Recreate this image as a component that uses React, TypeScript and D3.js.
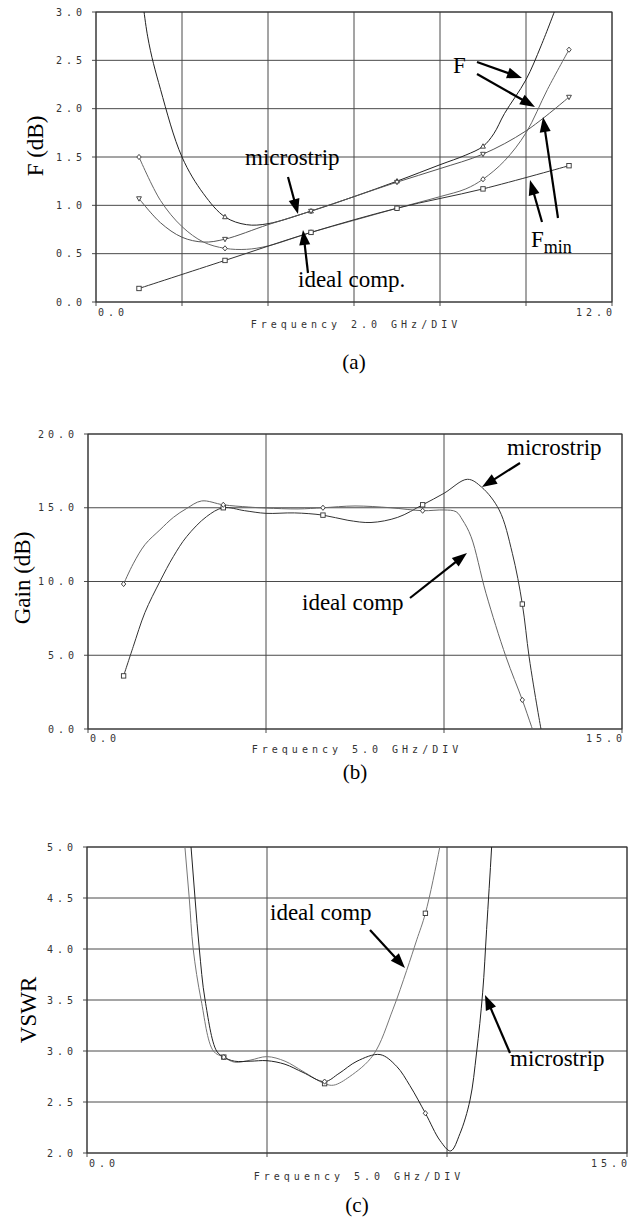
import React from 'react';
import * as d3 from 'd3';

const W = 630;
const H = 1220;

// ---------- Panel (a): noise figure vs frequency (GHz) ----------
const aYTickLabels = ['0.0', '0.5', '1.0', '1.5', '2.0', '2.5', '3.0'];
const aYTicks = [0, 0.5, 1, 1.5, 2, 2.5, 3];
const aXTicks = [0, 2, 4, 6, 8, 10, 12];

const aFmsX = [0.9, 1.2, 1.5, 2.0, 2.5, 3.0, 3.5, 4.0, 5.0, 6.0, 7.0, 8.0, 8.6, 9.0, 9.25, 9.5, 10.0, 10.35, 10.7];
const aFmsY = [3.9, 2.75, 2.2, 1.5, 1.12, 0.88, 0.8, 0.81, 0.94, 1.09, 1.25, 1.42, 1.52, 1.61, 1.74, 1.95, 2.3, 2.65, 3.05];
const aFminMsX = [1, 1.5, 2, 2.5, 3, 4, 5, 6, 7, 8, 9, 10, 11];
const aFminMsY = [1.07, 0.82, 0.67, 0.62, 0.65, 0.8, 0.94, 1.09, 1.24, 1.38, 1.53, 1.77, 2.12];
const aFidX = [1, 1.5, 2, 2.5, 3, 3.5, 4, 5, 6, 7, 8, 8.6, 9, 9.5, 10, 10.5, 11];
const aFidY = [1.5, 1.05, 0.78, 0.62, 0.555, 0.545, 0.58, 0.72, 0.845, 0.97, 1.09, 1.17, 1.27, 1.46, 1.75, 2.2, 2.61];
const aFminIdX = [1, 3, 5, 7, 9, 11];
const aFminIdY = [0.14, 0.43, 0.72, 0.97, 1.17, 1.41];
const aMarkX = [1, 3, 5, 7, 9, 11];

// ---------- Panel (b): gain ----------
const bYTickLabels = ['0.0', '5.0', '10.0', '15.0', '20.0'];
const bYTicks = [0, 5, 10, 15, 20];
const bXTicks = [0, 5, 10, 15];
const bMsX = [1.0, 1.27, 1.6, 2.02, 2.4, 2.77, 3.33, 3.8, 4.4, 5.0, 5.8, 6.6, 7.3, 7.95, 8.7, 9.4, 10.0, 10.66, 11.06, 11.55, 11.92, 12.2, 12.39, 12.63, 12.8];
const bMsY = [3.6, 5.58, 7.9, 10.0, 11.7, 13.04, 14.4, 15.0, 14.8, 14.62, 14.65, 14.5, 14.15, 14.0, 14.35, 15.2, 15.98, 16.93, 16.39, 14.85, 11.91, 8.47, 4.9, 1.29, -1.0];
const bIdX = [1.0, 1.27, 1.6, 2.02, 2.4, 2.77, 3.19, 3.8, 4.5, 5.0, 5.9, 6.6, 7.5, 8.5, 9.4, 10.0, 10.34, 10.52, 10.76, 11.18, 11.74, 12.2, 12.46, 12.7];
const bIdY = [9.83, 11.2, 12.5, 13.5, 14.35, 14.95, 15.46, 15.2, 15.05, 14.98, 14.92, 15.0, 15.12, 15.0, 14.8, 14.85, 14.73, 14.17, 13.04, 9.2, 4.9, 1.97, 0.16, -1.5];
const bMarkX = [1.0, 3.8, 6.6, 9.4, 12.2];

// ---------- Panel (c): VSWR ----------
const cYTickLabels = ['2.0', '2.5', '3.0', '3.5', '4.0', '4.5', '5.0'];
const cYTicks = [2, 2.5, 3, 3.5, 4, 4.5, 5];
const cXTicks = [0, 5, 10, 15];
const cIdX = [2.62, 2.72, 2.84, 2.95, 3.17, 3.51, 3.8, 4.1, 4.53, 5.0, 5.5, 6.0, 6.6, 6.85, 7.3, 7.95, 8.5, 8.88, 9.16, 9.4, 9.8, 9.95];
const cIdY = [5.5, 5.0, 4.5, 4.0, 3.5, 3.0, 2.94, 2.89, 2.91, 2.945, 2.9, 2.8, 2.68, 2.665, 2.75, 2.96, 3.41, 3.79, 4.09, 4.35, 5.0, 5.3];
const cMsX = [2.78, 2.89, 3.0, 3.12, 3.28, 3.6, 3.8, 4.1, 4.53, 5.0, 5.5, 6.0, 6.6, 7.0, 7.5, 8.14, 8.6, 8.97, 9.4, 9.81, 10.1, 10.36, 10.64, 10.82, 10.99, 11.1, 11.24, 11.35];
const cMsY = [5.5, 5.0, 4.5, 4.0, 3.5, 3.0, 2.94, 2.9, 2.9, 2.905, 2.87, 2.79, 2.7, 2.78, 2.9, 2.965, 2.85, 2.66, 2.39, 2.12, 2.02, 2.19, 2.52, 2.98, 3.57, 4.19, 5.0, 5.7];
const cMarkX = [1.0, 3.8, 6.6, 9.4, 12.2];

type Pt = [number, number];
const zip = (xs: number[], ys: number[]): Pt[] => xs.map((v, i) => [v, ys[i]]);

const TICK_FONT = '"DejaVu Sans Mono", monospace';
const SERIF = '"Liberation Serif", "Times New Roman", serif';
const LS = 4;

function Arrow({ x1, y1, x2, y2 }: { x1: number; y1: number; x2: number; y2: number }) {
  const dx = x2 - x1, dy = y2 - y1;
  const len = Math.hypot(dx, dy);
  const ux = dx / len, uy = dy / len;
  const hl = 15, hw = 5.5;
  const bx = x2 - ux * hl, by = y2 - uy * hl;
  const pts = [
    [x2, y2],
    [bx - uy * hw, by + ux * hw],
    [bx + uy * hw, by - ux * hw],
  ].map((p) => p.join(',')).join(' ');
  return (
    <g>
      <line x1={x1} y1={y1} x2={bx + ux * 2} y2={by + uy * 2} stroke="#000" strokeWidth={2.2} />
      <polygon points={pts} fill="#000" />
    </g>
  );
}

function Marker({ type, x, y }: { type: string; x: number; y: number }) {
  const s = 2.2;
  const st = { fill: '#fff', stroke: '#333', strokeWidth: 0.9 };
  if (type === 'square') return <rect x={x - s} y={y - s} width={2 * s} height={2 * s} {...st} />;
  if (type === 'diamond')
    return <polygon points={`${x},${y - 2.6} ${x + 2.2},${y} ${x},${y + 2.6} ${x - 2.2},${y}`} {...st} />;
  if (type === 'tri-up')
    return <polygon points={`${x},${y - 2.6} ${x + 2.4},${y + 1.8} ${x - 2.4},${y + 1.8}`} {...st} />;
  return <polygon points={`${x - 2.4},${y - 1.8} ${x + 2.4},${y - 1.8} ${x},${y + 2.6}`} {...st} />;
}

interface Series {
  pts: Pt[];
  color: string;
  marker: string;
  markX: number[];
}

interface PanelProps {
  id: string;
  left: number;
  right: number;
  top: number;
  bottom: number;
  xDomain: [number, number];
  yDomain: [number, number];
  xTicks: number[];
  yTicks: number[];
  yTickLabels: string[];
  xEndLabel: string;
  xTitle: string;
  yTitle: string;
  yTitleX: number;
  yTitleY: number;
  xLabelY: number;
  xTitleY: number;
  caption: string;
  captionY: number;
  series: Series[];
  children?: React.ReactNode;
}

function Panel(p: PanelProps) {
  const x = d3.scaleLinear().domain(p.xDomain).range([p.left, p.right]);
  const y = d3.scaleLinear().domain(p.yDomain).range([p.bottom, p.top]);
  const line = d3
    .line<Pt>()
    .x((d) => x(d[0]))
    .y((d) => y(d[1]))
    .curve(d3.curveCatmullRom.alpha(0.5));
  const clipId = `clip-${p.id}`;
  const interp = (pts: Pt[], xv: number) => {
    for (let i = 0; i < pts.length; i++) if (Math.abs(pts[i][0] - xv) < 1e-6) return pts[i][1];
    return NaN;
  };
  return (
    <g>
      <defs>
        <clipPath id={clipId}>
          <rect x={p.left} y={p.top} width={p.right - p.left} height={p.bottom - p.top} />
        </clipPath>
      </defs>
      {/* grid */}
      {p.yTicks.map((t) => (
        <line key={'gy' + t} x1={p.left - 4} x2={p.right} y1={y(t)} y2={y(t)} stroke="#4a4a4a" strokeWidth={1} />
      ))}
      {p.xTicks.map((t) => (
        <line key={'gx' + t} x1={x(t)} x2={x(t)} y1={p.top} y2={p.bottom + 4} stroke="#4a4a4a" strokeWidth={1} />
      ))}
      <rect x={p.left} y={p.top} width={p.right - p.left} height={p.bottom - p.top} fill="none" stroke="#333" strokeWidth={1} />
      {/* y tick labels */}
      {p.yTicks.map((t, i) => (
        <text
          key={'yl' + t}
          x={p.left - 14 + LS}
          y={y(t)}
          dy="0.35em"
          textAnchor="end"
          fontFamily={TICK_FONT}
          fontSize={10}
          letterSpacing={LS}
          fill="#333"
        >
          {p.yTickLabels[i]}
        </text>
      ))}
      <text x={p.left + 2} y={p.xLabelY} dy="0.35em" fontFamily={TICK_FONT} fontSize={10} letterSpacing={LS} fill="#333">
        0.0
      </text>
      <text
        x={p.right + LS}
        y={p.xLabelY}
        dy="0.35em"
        textAnchor="end"
        fontFamily={TICK_FONT}
        fontSize={10}
        letterSpacing={LS}
        fill="#333"
      >
        {p.xEndLabel}
      </text>
      <text
        x={(p.left + p.right) / 2 + LS / 2}
        y={p.xTitleY}
        dy="0.35em"
        textAnchor="middle"
        fontFamily={TICK_FONT}
        fontSize={10}
        letterSpacing={LS}
        fill="#333"
      >
        {p.xTitle}
      </text>
      <text
        transform={`translate(${p.yTitleX},${p.yTitleY}) rotate(-90)`}
        textAnchor="middle"
        fontFamily={SERIF}
        fontSize={23}
        fill="#000"
      >
        {p.yTitle}
      </text>
      <text x={(p.left + p.right) / 2} y={p.captionY} textAnchor="middle" fontFamily={SERIF} fontSize={21} fill="#000">
        {p.caption}
      </text>
      {/* curves */}
      <g clipPath={`url(#${clipId})`}>
        {p.series.map((s, i) => (
          <path key={'s' + i} d={line(s.pts) || ''} fill="none" stroke={s.color} strokeWidth={1} />
        ))}
      </g>
      {p.series.map((s, i) =>
        s.markX.map((mx) => {
          const v = interp(s.pts, mx);
          if (isNaN(v) || v < p.yDomain[0] || v > p.yDomain[1]) return null;
          return <Marker key={`m${i}-${mx}`} type={s.marker} x={x(mx)} y={y(v)} />;
        })
      )}
      {p.children}
    </g>
  );
}

const annot = { fontFamily: SERIF, fontSize: 23, fill: '#000' };

export default function App() {
  return (
    <svg
      width={W}
      height={H}
      viewBox={`0 0 ${W} ${H}`}
      style={{ position: 'absolute', left: 0, top: 0, background: '#fff' }}
    >
      <rect width={W} height={H} fill="#fff" />
      <Panel
        id="a"
        left={96}
        right={612}
        top={12}
        bottom={302}
        xDomain={[0, 12]}
        yDomain={[0, 3]}
        xTicks={aXTicks}
        yTicks={aYTicks}
        yTickLabels={aYTickLabels}
        xEndLabel="12.0"
        xTitle="Frequency 2.0 GHz/DIV"
        yTitle="F (dB)"
        yTitleX={43}
        yTitleY={146}
        xLabelY={312}
        xTitleY={324}
        caption="(a)"
        captionY={369}
        series={[
          { pts: zip(aFmsX, aFmsY), color: '#222', marker: 'tri-up', markX: aMarkX },
          { pts: zip(aFminMsX, aFminMsY), color: '#555', marker: 'tri-down', markX: aMarkX },
          { pts: zip(aFidX, aFidY), color: '#666', marker: 'diamond', markX: aMarkX },
          { pts: zip(aFminIdX, aFminIdY), color: '#333', marker: 'square', markX: aMarkX },
        ]}
      >
        <text x={245} y={165} {...annot}>microstrip</text>
        <Arrow x1={288} y1={177} x2={298} y2={214} />
        <text x={298} y={287} {...annot}>ideal comp.</text>
        <Arrow x1={308} y1={273} x2={303} y2={230} />
        <text x={453} y={73} {...annot}>F</text>
        <Arrow x1={477} y1={62} x2={522} y2={78} />
        <Arrow x1={477} y1={74} x2={535} y2={107} />
        <text x={531} y={247} {...annot}>
          F<tspan fontSize={18} dy={6}>min</tspan>
        </text>
        <Arrow x1={542} y1={222} x2={530} y2={180} />
        <Arrow x1={558} y1={218} x2={543} y2={117} />
      </Panel>
      <Panel
        id="b"
        left={88}
        right={622}
        top={434}
        bottom={729}
        xDomain={[0, 15]}
        yDomain={[0, 20]}
        xTicks={bXTicks}
        yTicks={bYTicks}
        yTickLabels={bYTickLabels}
        xEndLabel="15.0"
        xTitle="Frequency 5.0 GHz/DIV"
        yTitle="Gain (dB)"
        yTitleX={30}
        yTitleY={578}
        xLabelY={738}
        xTitleY={749}
        caption="(b)"
        captionY={779}
        series={[
          { pts: zip(bMsX, bMsY), color: '#333', marker: 'square', markX: bMarkX },
          { pts: zip(bIdX, bIdY), color: '#666', marker: 'diamond', markX: bMarkX },
        ]}
      >
        <text x={507} y={455} {...annot}>microstrip</text>
        <Arrow x1={520} y1={463} x2={482} y2={487} />
        <text x={302} y={610} {...annot}>ideal comp</text>
        <Arrow x1={410} y1={598} x2={467} y2={553} />
      </Panel>
      <Panel
        id="c"
        left={87}
        right={627}
        top={847}
        bottom={1153}
        xDomain={[0, 15]}
        yDomain={[2, 5]}
        xTicks={cXTicks}
        yTicks={cYTicks}
        yTickLabels={cYTickLabels}
        xEndLabel="15.0"
        xTitle="Frequency 5.0 GHz/DIV"
        yTitle="VSWR"
        yTitleX={36}
        yTitleY={1010}
        xLabelY={1163}
        xTitleY={1176}
        caption="(c)"
        captionY={1212}
        series={[
          { pts: zip(cIdX, cIdY), color: '#777', marker: 'square', markX: cMarkX },
          { pts: zip(cMsX, cMsY), color: '#222', marker: 'diamond', markX: cMarkX },
        ]}
      >
        <text x={270} y={920} {...annot}>ideal comp</text>
        <Arrow x1={370} y1={930} x2={405} y2={968} />
        <text x={510} y={1066} {...annot}>microstrip</text>
        <Arrow x1={510} y1={1053} x2={485} y2={995} />
      </Panel>
    </svg>
  );
}
